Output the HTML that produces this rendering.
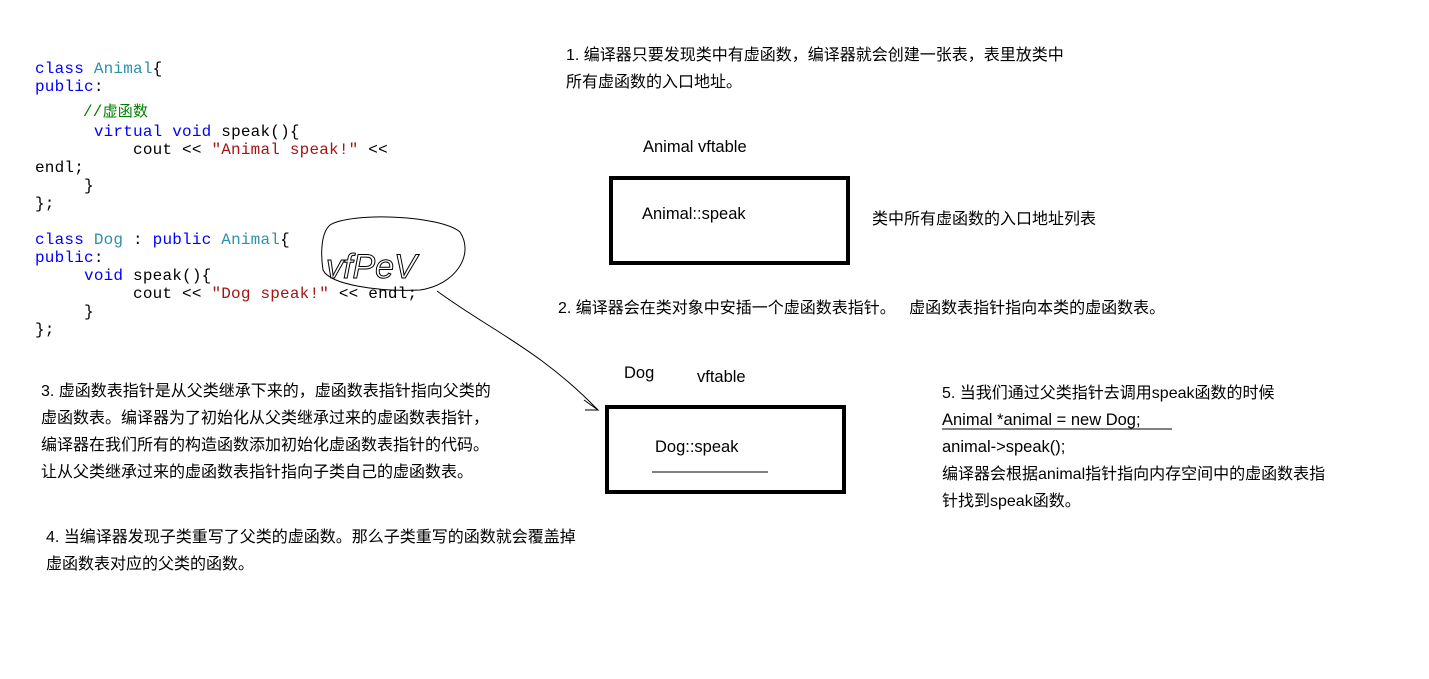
<!DOCTYPE html>
<html><head><meta charset="utf-8"><style>
body{margin:0;width:1429px;height:679px;background:#fff;position:relative;overflow:hidden}
.c{position:absolute;font-family:"Liberation Mono","Courier New",monospace;font-size:16px;letter-spacing:0.2px;white-space:pre;color:#000;line-height:18px}
.k{color:#00f}.t{color:#2b91af}.s{color:#a31515}.g{color:#008000}
.x{position:absolute;font-family:"Liberation Sans","Noto Sans CJK SC",sans-serif;font-size:16px;white-space:nowrap;color:#000;line-height:27px}
.l{font-size:16.5px}
.b{position:absolute;border:4px solid #000;box-sizing:border-box}
</style></head><body>
<div class="c" style="left:35px;top:60px"><span class="k">class</span> <span class="t">Animal</span>{
<span class="k">public</span>:</div>
<div class="c" style="left:83px;top:102px"><span class="g">//<span style="font-family:'Noto Sans CJK SC',sans-serif;font-size:15px">虚函数</span></span></div>
<div class="c" style="left:35px;top:123px">      <span class="k">virtual</span> <span class="k">void</span> speak(){
          cout &lt;&lt; <span class="s">"Animal speak!"</span> &lt;&lt;
endl;
     }
};

<span class="k">class</span> <span class="t">Dog</span> : <span class="k">public</span> <span class="t">Animal</span>{
<span class="k">public</span>:
     <span class="k">void</span> speak(){
          cout &lt;&lt; <span class="s">"Dog speak!"</span> &lt;&lt; endl;
     }
};</div>
<svg style="position:absolute;left:0;top:0" width="1429" height="679">
<path d="M330,225 C350,212 440,215 460,232 C475,255 455,285 420,290 C380,292 330,285 323,270 C320,250 322,232 330,225" fill="none" stroke="#000" stroke-width="1"/>
<text x="326" y="278" font-family="Liberation Sans" font-size="34" fill="none" stroke="#000" stroke-width="1" font-style="italic">vfPeV</text>
<path d="M437,291 C490,330 540,350 598,410" fill="none" stroke="#000" stroke-width="1"/>
<path d="M584,400 L598,410 L585,410" fill="none" stroke="#000"/>
<line x1="652" y1="472" x2="768" y2="472" stroke="#000"/>
<line x1="942" y1="429" x2="1172" y2="429" stroke="#000"/>
</svg>
<div class="b" style="left:609px;top:176px;width:241px;height:89px"></div>
<div class="b" style="left:605px;top:405px;width:241px;height:89px"></div>
<div class="x" style="left:566px;top:42px">1. 编译器只要发现类中有虚函数，编译器就会创建一张表，表里放类中<br>所有虚函数的入口地址。</div>
<div class="x l" style="left:643px;top:134px">Animal vftable</div>
<div class="x l" style="left:642px;top:201px">Animal::speak</div>
<div class="x" style="left:872px;top:206px">类中所有虚函数的入口地址列表</div>
<div class="x" style="left:558px;top:295px">2. 编译器会在类对象中安插一个虚函数表指针。&nbsp;&nbsp; 虚函数表指针指向本类的虚函数表。</div>
<div class="x l" style="left:624px;top:360px">Dog</div>
<div class="x l" style="left:697px;top:364px">vftable</div>
<div class="x l" style="left:655px;top:434px">Dog::speak</div>
<div class="x" style="left:41px;top:378px">3. 虚函数表指针是从父类继承下来的，虚函数表指针指向父类的<br>虚函数表。编译器为了初始化从父类继承过来的虚函数表指针，<br>编译器在我们所有的构造函数添加初始化虚函数表指针的代码。<br>让从父类继承过来的虚函数表指针指向子类自己的虚函数表。</div>
<div class="x" style="left:46px;top:524px">4. 当编译器发现子类重写了父类的虚函数。那么子类重写的函数就会覆盖掉<br>虚函数表对应的父类的函数。</div>
<div class="x" style="left:942px;top:380px">5. 当我们通过父类指针去调用speak函数的时候<br><span class="l">Animal *animal = new Dog;</span><br><span class="l">animal-&gt;speak();</span><br>编译器会根据animal指针指向内存空间中的虚函数表指<br>针找到speak函数。</div>
</body></html>
